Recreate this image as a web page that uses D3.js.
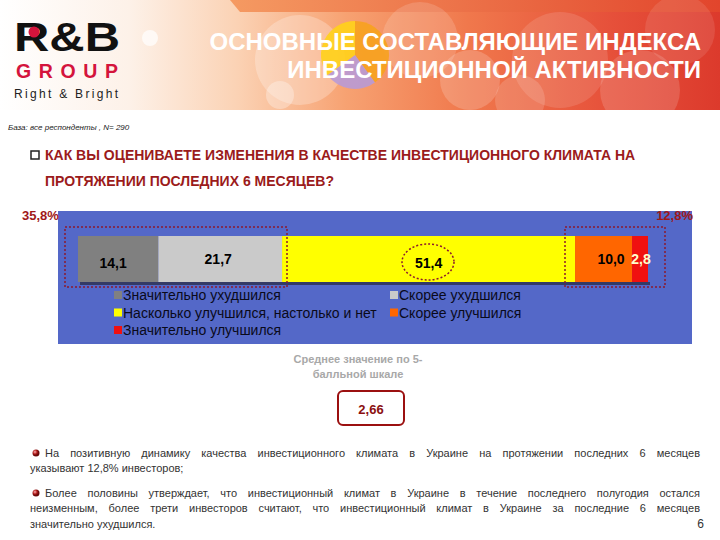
<!DOCTYPE html>
<html><head><meta charset="utf-8">
<script src="https://cdn.jsdelivr.net/npm/d3@7"></script>
<style>body{margin:0;background:#fff}svg{display:block}text{font-family:"Liberation Sans",Arial,sans-serif}</style>
</head><body><svg id="c" width="720" height="540"></svg>
<script>
const categories = ["Значительно ухудшился","Скорее ухудшился","Насколько улучшился,  настолько и нет","Скорее улучшился","Значительно улучшился"];
const values = [14.1, 21.7, 51.4, 10.0, 2.8];
const valueLabels = ["14,1","21,7","51,4","10,0","2,8"];
const colors = ["#808080","#CACACA","#FFFF00","#FF6600","#F01010"];
const labelColors = ["#000","#000","#000","#000","#FFFFCC"];
const groupLabels = ["35,8%","12,8%"];
const meanLabel = "2,66";
const titleLines = ["ОСНОВНЫЕ СОСТАВЛЯЮЩИЕ ИНДЕКСА","ИНВЕСТИЦИОННОЙ АКТИВНОСТИ"];
const questionLines = ["КАК ВЫ ОЦЕНИВАЕТЕ ИЗМЕНЕНИЯ В КАЧЕСТВЕ ИНВЕСТИЦИОННОГО КЛИМАТА НА","ПРОТЯЖЕНИИ ПОСЛЕДНИХ 6 МЕСЯЦЕВ?"];

const svg = d3.select("#c");
const defs = svg.append("defs");

// ---------- header ----------
const hg = defs.append("linearGradient").attr("id","hg");
[["0%","#ffffff"],["18%","#fdf1e8"],["33%","#fbd2b4"],["48%","#f7a272"],["65%","#f0784c"],["85%","#e6503a"],["100%","#dc3a2c"]]
  .forEach(([o,c])=>hg.append("stop").attr("offset",o).attr("stop-color",c));
svg.append("rect").attr("x",0).attr("y",0).attr("width",720).attr("height",110).attr("fill","url(#hg)");
const strip = defs.append("linearGradient").attr("id","sg");
[["0%","#f59a62"],["100%","#e2452c"]].forEach(([o,c])=>strip.append("stop").attr("offset",o).attr("stop-color",c));
svg.append("path").attr("d","M230,0 H720 V12 H240 Z").attr("fill","url(#sg)");
const circ = [[300,60,45,0.25],[420,40,38,0.15],[470,80,30,0.18],[560,60,48,0.12],[640,90,40,0.15],[680,30,35,0.1],[520,100,25,0.15],[280,95,14,0.3],[150,38,8,0.7]];
svg.append("g").selectAll("circle").data(circ).join("circle")
  .attr("cx",d=>d[0]).attr("cy",d=>d[1]).attr("r",d=>d[2]).attr("fill","#fff").attr("opacity",d=>d[3]);
const pie = d3.pie().sort(null)([40,25,35]);
const arcG = d3.arc().innerRadius(0).outerRadius(34);
svg.append("g").attr("transform","translate(355,55)").selectAll("path").data(pie).join("path")
  .attr("d",arcG).attr("fill",(d,i)=>["#f7a21e","#b89ad6","#ffd21a"][i]).attr("opacity",0.9);
// logo
svg.append("text").attr("x",14).attr("y",51).attr("font-size",41).attr("font-weight","bold").attr("fill","#111")
  .attr("textLength",106).attr("lengthAdjust","spacingAndGlyphs").text("R&B");
svg.append("circle").attr("cx",34).attr("cy",32).attr("r",5.5).attr("fill","#d4143c");
svg.append("text").attr("x",16).attr("y",77.5).attr("font-size",19.5).attr("font-weight","bold").attr("fill","#d4143c")
  .attr("textLength",102).attr("lengthAdjust","spacing").text("GROUP");
svg.append("text").attr("x",14).attr("y",98).attr("font-size",12).attr("fill","#222")
  .attr("textLength",104).attr("lengthAdjust","spacing").text("Right & Bright");
// title
titleLines.forEach((t,i)=>svg.append("text").attr("x",701).attr("y",50+i*28).attr("text-anchor","end")
  .attr("font-size",24).attr("font-weight","bold").attr("fill","#fff").text(t));

svg.append("text").attr("x",8).attr("y",130).attr("font-size",8).attr("font-style","italic").attr("fill","#222")
  .text("База: все респонденты , N= 290");

// question
svg.append("rect").attr("x",31).attr("y",151).attr("width",8).attr("height",8).attr("fill","none").attr("stroke","#222").attr("stroke-width",1.5);
questionLines.forEach((t,i)=>svg.append("text").attr("x",45).attr("y",160+i*26)
  .attr("font-size",14).attr("font-weight","bold").attr("fill","#9b1b1b").text(t));

// ---------- chart ----------
const panel = {x:58,y:211,w:634,h:133};
svg.append("rect").attr("x",panel.x).attr("y",panel.y).attr("width",panel.w).attr("height",panel.h).attr("fill","#5468c8");

const x = d3.scaleLinear().domain([0, d3.sum(values)]).range([78, 648]);
const cum = values.map((v,i)=>d3.sum(values.slice(0,i)));
const bar = {y:236,h:46};
svg.append("rect").attr("x",x(0)+2).attr("y",bar.y+bar.h).attr("width",x(100)-x(0)).attr("height",3).attr("fill","#333a66");
const segs = svg.append("g");
segs.selectAll("rect").data(values).join("rect")
  .attr("x",(d,i)=>x(cum[i])).attr("y",bar.y).attr("width",d=>x(d)-x(0)).attr("height",bar.h)
  .attr("fill",(d,i)=>colors[i]);
segs.selectAll("text").data(values).join("text")
  .attr("x",(d,i)=>i<4 ? (i==3? x(cum[i])+36 : x(cum[i]+d/2) - (i==1?2:0) - (i==0?5:0)) : x(cum[i]+d/2)+1)
  .attr("y",(d,i)=>i==0||i==2?268:264)
  .attr("text-anchor","middle").attr("font-size",14).attr("font-weight","bold")
  .attr("fill",(d,i)=>labelColors[i]).text((d,i)=>valueLabels[i]);

const dash = "#8b1a2e";
svg.append("rect").attr("x",65).attr("y",227).attr("width",222).attr("height",60).attr("fill","none")
  .attr("stroke",dash).attr("stroke-width",1.5).attr("stroke-dasharray","2,2");
svg.append("rect").attr("x",565).attr("y",227).attr("width",100).attr("height",60).attr("fill","none")
  .attr("stroke",dash).attr("stroke-width",1.5).attr("stroke-dasharray","2,2");
svg.append("ellipse").attr("cx",428).attr("cy",262).attr("rx",26).attr("ry",18).attr("fill","none")
  .attr("stroke",dash).attr("stroke-width",1.5).attr("stroke-dasharray","2,2");
svg.append("text").attr("x",22).attr("y",220).attr("font-size",13).attr("font-weight","bold").attr("fill","#a01818").text(groupLabels[0]);
svg.append("text").attr("x",693).attr("y",220).attr("text-anchor","end").attr("font-size",13).attr("font-weight","bold").attr("fill","#a01818").text(groupLabels[1]);

// legend
const leg = svg.append("g");
categories.forEach((c,i)=>{
  const col = i%2, row = Math.floor(i/2);
  const lx = col==0 ? 114 : 390, ly = 296 + row*17.5;
  leg.append("rect").attr("x",lx).attr("y",ly-5).attr("width",8).attr("height",8).attr("fill",colors[i]);
  leg.append("text").attr("x",lx+9).attr("y",ly+4).attr("font-size",14).attr("fill","#0a0a1a").text(c);
});

// mean
svg.append("text").attr("x",358).attr("y",363).attr("text-anchor","middle").attr("font-size",11).attr("font-weight","bold").attr("fill","#a8a8a8").text("Среднее значение по 5-");
svg.append("text").attr("x",358).attr("y",378).attr("text-anchor","middle").attr("font-size",11).attr("font-weight","bold").attr("fill","#a8a8a8").text("балльной шкале");
svg.append("rect").attr("x",338).attr("y",391).attr("width",66).attr("height",34).attr("rx",5)
  .attr("fill","#fff").attr("stroke","#9b1010").attr("stroke-width",2);
svg.append("text").attr("x",371).attr("y",414).attr("text-anchor","middle").attr("font-size",13).attr("font-weight","bold").attr("fill","#8b0f0f").text(meanLabel);

// ---------- bullets ----------
const bg = defs.append("radialGradient").attr("id","bg").attr("cx","35%").attr("cy","35%");
[["0%","#ffb0b0"],["60%","#b01c1c"],["100%","#6a0a0a"]].forEach(([o,c])=>bg.append("stop").attr("offset",o).attr("stop-color",c));
const paraLines = [
  {t:"На позитивную динамику качества инвестиционного климата в Украине на протяжении последних 6 месяцев", x:45, y:457, j:true},
  {t:"указывают 12,8% инвесторов;", x:30, y:472, j:false},
  {t:"Более половины утверждает, что инвестиционный климат в Украине в течение последнего полугодия остался", x:45, y:497, j:true},
  {t:"неизменным, более трети инвесторов считают, что инвестиционный климат в Украине  за последние 6 месяцев", x:30, y:512, j:true},
  {t:"значительно ухудшился.", x:30, y:528, j:false}
];
[453,493].forEach(cy=>svg.append("circle").attr("cx",36).attr("cy",cy).attr("r",3.5).attr("fill","url(#bg)"));
const right = 700;
paraLines.forEach(L=>{
  const g = svg.append("g");
  if(!L.j){ g.append("text").attr("x",L.x).attr("y",L.y).attr("font-size",11).attr("fill","#333").text(L.t); return; }
  const words = L.t.split(/\s+/);
  const nodes = words.map(w=>g.append("text").attr("y",L.y).attr("font-size",11).attr("fill","#333").text(w));
  const widths = nodes.map(n=>n.node().getComputedTextLength());
  const gap = (right - L.x - d3.sum(widths))/(words.length-1);
  let cx = L.x;
  nodes.forEach((n,i)=>{ n.attr("x",cx); cx += widths[i]+gap; });
});
svg.append("text").attr("x",704).attr("y",528).attr("text-anchor","end").attr("font-size",12).attr("fill","#333").text("6");
</script></body></html>
